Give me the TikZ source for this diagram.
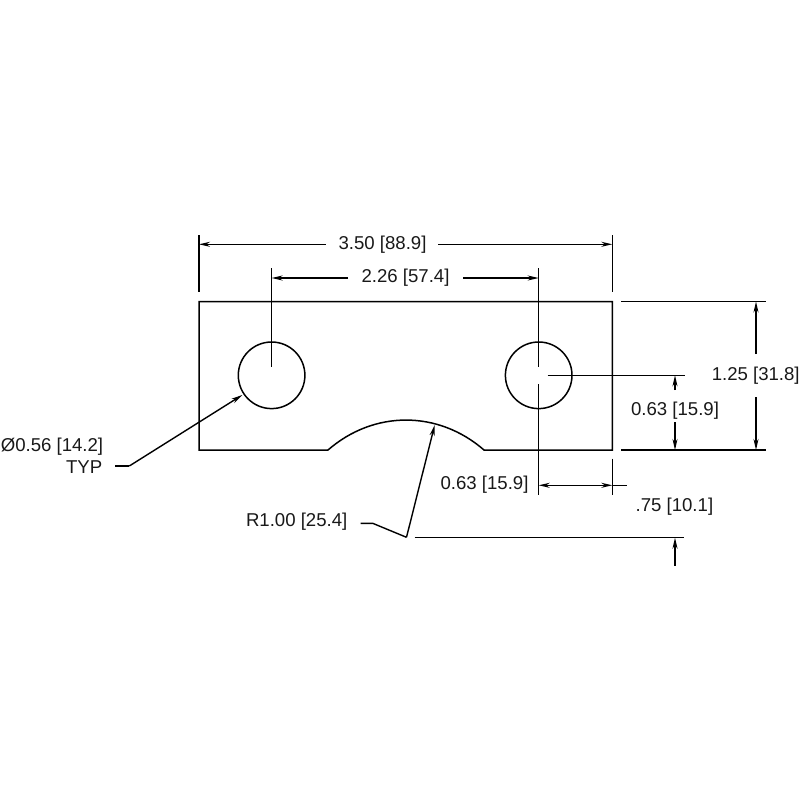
\documentclass[tikz,border=0pt]{standalone}
\usepackage{fontspec}
\setmainfont{Liberation Sans}
\usetikzlibrary{arrows.meta}
\tikzset{
  part/.style={line width=1.5pt},
  dimline/.style={line width=1.4pt},
  tip/.style={dimline,-{Stealth[length=11pt,width=5pt]}},
  dimtext/.style={inner sep=0pt,anchor=base,font=\fontsize{18.6pt}{20pt}\selectfont,text=black!90}
}
\begin{document}
\begin{tikzpicture}[x=1pt,y=-1pt]
  \useasboundingbox[fill=white] (0,0) rectangle (800,800);
  \draw
    (199,301.5) coordinate (tl)
    (612.3,301.5) coordinate (tr)
    (612.3,450) coordinate (br)
    (199,450) coordinate (bl)
    (328,450) coordinate (cutl)
    (484,450) coordinate (cutr)
    (271.6,375.3) coordinate (holel)
    (538.7,375.3) coordinate (holer)
    % witness line ends
    (199,235) coordinate (w1a)
    (199,292) coordinate (w1b)
    (612.3,235) coordinate (w2a)
    (612.3,292) coordinate (w2b)
    (271.6,268) coordinate (w3a)
    (271.6,366.5) coordinate (w3b)
    (538.7,268) coordinate (w4a)
    (538.7,366.5) coordinate (w4b)
    (538.7,384) coordinate (w5a)
    (538.7,495) coordinate (w5b)
    (612.3,458.7) coordinate (w6a)
    (612.3,495) coordinate (w6b)
    (621.3,301.5) coordinate (w7a)
    (766,301.5) coordinate (w7b)
    (621.3,450) coordinate (w8a)
    (766,450) coordinate (w8b)
    (547.7,375.3) coordinate (w9a)
    (684.7,375.3) coordinate (w9b)
    (414.7,537.7) coordinate (w10a)
    (684.3,537.7) coordinate (w10b)
    % dimension line ends
    (199,244.3) coordinate (d1a)
    (325.7,244.3) coordinate (d1b)
    (438,244.3) coordinate (d1c)
    (612.3,244.3) coordinate (d1d)
    (271.6,278) coordinate (d2a)
    (348,278) coordinate (d2b)
    (463,278) coordinate (d2c)
    (538.7,278) coordinate (d2d)
    (756,301.5) coordinate (d3a)
    (756,354) coordinate (d3b)
    (756,397) coordinate (d3c)
    (756,450) coordinate (d3d)
    (675,375.3) coordinate (d4a)
    (675,390) coordinate (d4b)
    (675,422) coordinate (d4c)
    (675,450) coordinate (d4d)
    (538.7,485.3) coordinate (d5a)
    (612.3,485.3) coordinate (d5b)
    (626.7,485.3) coordinate (d5c)
    (675,537.7) coordinate (d6a)
    (675,565.7) coordinate (d6b)
    % leaders
    (242.3,395) coordinate (l1a)
    (129.3,466) coordinate (l1b)
    (115,466) coordinate (l1c)
    (434.7,425) coordinate (l2a)
    (406.5,537.3) coordinate (l2b)
    (372.7,523.3) coordinate (l2c)
    (360.7,523.3) coordinate (l2d);
  \draw[part] (cutl) -- (bl) -- (tl) -- (tr) -- (br) -- (cutr) to[bend right=41] (cutl);
  \draw[part] (holel) circle (33.3pt);
  \draw[part] (holer) circle (33.3pt);
  \begin{scope}[dimline]
    \draw (w1a) to (w1b);
    \draw (w2a) to (w2b);
    \draw (w3a) to (w3b);
    \draw (w4a) to (w4b);
    \draw (w5a) to (w5b);
    \draw (w6a) to (w6b);
    \draw (w7a) to (w7b);
    \draw (w8a) to (w8b);
    \draw (w9a) to (w9b);
    \draw (w10a) to (w10b);
    \draw (d5b) to (d5c);
    \draw (l1c) to (l1b);
    \draw (l2d) to (l2c) to (l2b);
  \end{scope}
  \begin{scope}[tip]
    \draw (d1b) to (d1a);
    \draw (d1c) to (d1d);
    \draw (d2b) to (d2a);
    \draw (d2c) to (d2d);
    \draw (d3b) to (d3a);
    \draw (d3c) to (d3d);
    \draw (d4b) to (d4a);
    \draw (d4c) to (d4d);
    \draw[{Stealth[length=11pt,width=5pt]}-{Stealth[length=11pt,width=5pt]}] (d5a) to (d5b);
    \draw (d6b) to (d6a);
    \draw (l1b) to (l1a);
    \draw (l2b) to (l2a);
  \end{scope}
  \node[dimtext] (overall) at (382.5,249.5) {3.50 [88.9]};
  \node[dimtext] (holes) at (405.5,282.8) {2.26 [57.4]};
  \node[dimtext] (height) at (755.7,380.7) {1.25 [31.8]};
  \node[dimtext] (holey) at (675,415.3) {0.63 [15.9]};
  \node[dimtext] (holex) at (484.5,489.3) {0.63 [15.9]};
  \node[dimtext] (depth) at (674.4,511.7) {.75 [10.1]};
  \node[dimtext] (dia) at (52,451) {Ø0.56 [14.2]};
  \node[dimtext,anchor=base east] (typ) at (102.5,473.3) {TYP};
  \node[dimtext] (radius) at (296.7,526.7) {R1.00 [25.4]};
\end{tikzpicture}
\end{document}
